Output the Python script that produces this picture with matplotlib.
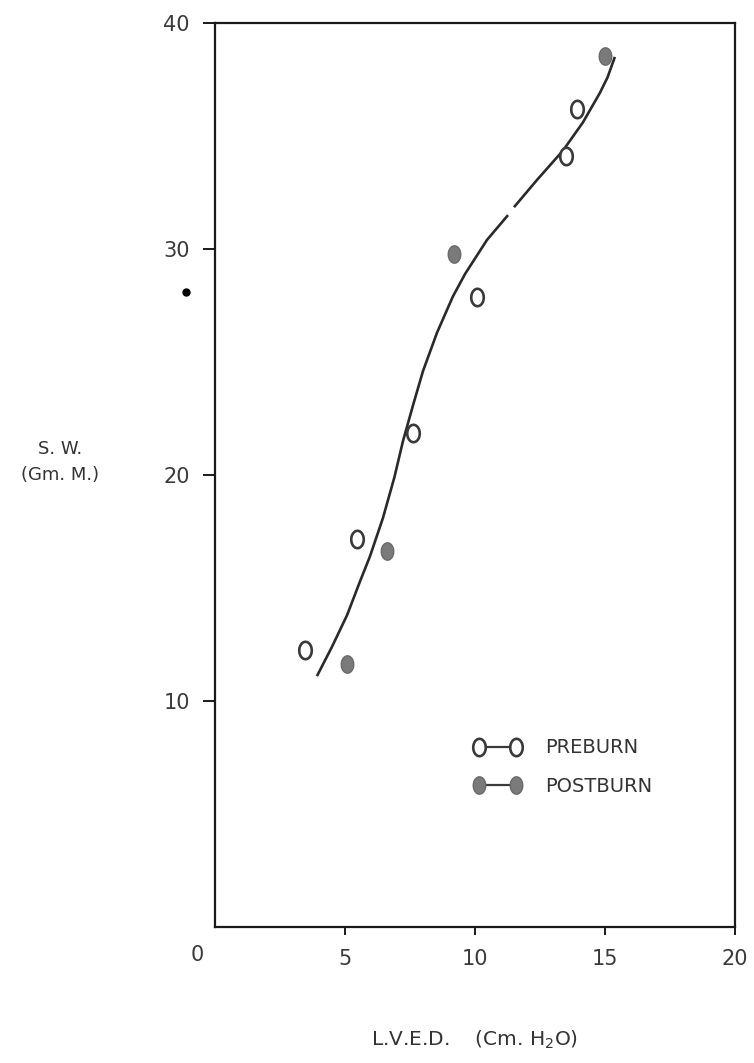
import matplotlib
matplotlib.use("Agg")
import matplotlib.pyplot as plt
from matplotlib.path import Path
import numpy as np

# ---- data ----
pre_x = [3.46, 5.46, 7.62, 10.08, 13.5, 13.92]
pre_y = [12.26, 17.17, 21.86, 27.88, 34.1, 36.2]

post_x = [5.08, 6.62, 9.19, 15.0]
post_y = [11.64, 16.64, 29.8, 38.54]

# hand-drawn fitted curve (two pieces, small gap in the drawing)
curve1_x = [3.92, 4.5, 5.08, 5.58, 5.96, 6.46, 6.9, 7.23, 7.62, 8.0, 8.54, 9.15, 9.62, 10.46, 11.27]
curve1_y = [11.1, 12.4, 13.8, 15.3, 16.4, 18.1, 19.9, 21.5, 23.1, 24.6, 26.3, 27.9, 28.9, 30.4, 31.5]
curve2_x = [11.5, 12.38, 13.38, 14.15, 14.8, 15.1, 15.38]
curve2_y = [31.85, 33.05, 34.35, 35.6, 36.9, 37.6, 38.5]

stray_x = [-1.1]
stray_y = [28.1]

xticks = [5, 10, 15, 20]
yticks = [10, 20, 30, 40]

# ---- figure ----
fig = plt.figure(figsize=(7.54, 10.63), dpi=100)
ax = fig.add_axes([215/754, 136/1063, 520/754, 904/1063])
ax.set_xlim(0, 20)
ax.set_ylim(0, 40)

# elliptical marker (taller than wide)
t = np.linspace(0, 2*np.pi, 60)
ell = Path(np.column_stack([0.72*np.cos(t), np.sin(t)]), closed=True)

ink = "#2a2a2a"
ax.plot(curve1_x, curve1_y, color=ink, lw=1.9, solid_capstyle="butt")
ax.plot(curve2_x, curve2_y, color=ink, lw=1.9, solid_capstyle="butt")

ms = 12.5
ax.plot(pre_x, pre_y, linestyle="none", marker=ell, markersize=ms,
        markerfacecolor="white", markeredgecolor="#3a3a3a", markeredgewidth=1.9,
        label="PREBURN")
ax.plot(post_x, post_y, linestyle="none", marker=ell, markersize=ms,
        markerfacecolor="#7a7a7a", markeredgecolor="#6a6a6a", markeredgewidth=1.0,
        label="POSTBURN")

ax.plot(stray_x, stray_y, linestyle="none", marker="o", markersize=5,
        color="black", clip_on=False)

# legend with line between two markers
leg_h1, = ax.plot([], [], color="#3a3a3a", lw=1.6, marker=ell, markersize=ms,
                  markerfacecolor="white", markeredgecolor="#3a3a3a", markeredgewidth=1.9)
leg_h2, = ax.plot([], [], color="#3a3a3a", lw=1.6, marker=ell, markersize=ms,
                  markerfacecolor="#7a7a7a", markeredgecolor="#6a6a6a", markeredgewidth=1.0)
leg = ax.legend([leg_h1, leg_h2], ["PREBURN", "POSTBURN"], numpoints=2,
                loc="upper left", bbox_to_anchor=(0.462, 0.228), frameon=False,
                handlelength=2.5, handletextpad=1.2, labelspacing=1.0,
                prop={"size": 14, "family": "DejaVu Sans"})
for txt in leg.get_texts():
    txt.set_color("#333333")

# axes styling
for s in ax.spines.values():
    s.set_linewidth(1.6)
    s.set_color("#1a1a1a")
ax.set_xticks(xticks)
ax.set_yticks(yticks)
ax.tick_params(axis="y", direction="out", length=9, width=1.4, pad=9,
               labelsize=15, labelcolor="#3a3a3a", color="#1a1a1a")
ax.tick_params(axis="x", direction="out", length=6, width=1.4, pad=10,
               labelsize=15, labelcolor="#3a3a3a", color="#1a1a1a")

fig.text(197/754, 1 - 955/1063, "0", ha="center", va="center",
         fontsize=15, color="#3a3a3a")
fig.text(60/754, 1 - 462/1063, "S. W.\n(Gm. M.)", ha="center", va="center",
         fontsize=13, color="#333333", linespacing=1.5)
fig.text(475/754, 1 - 1040/1063, r"L.V.E.D.    (Cm. H$_2$O)", ha="center", va="center",
         fontsize=14.5, color="#333333")

fig.savefig("out.png", dpi=100, facecolor="white")
